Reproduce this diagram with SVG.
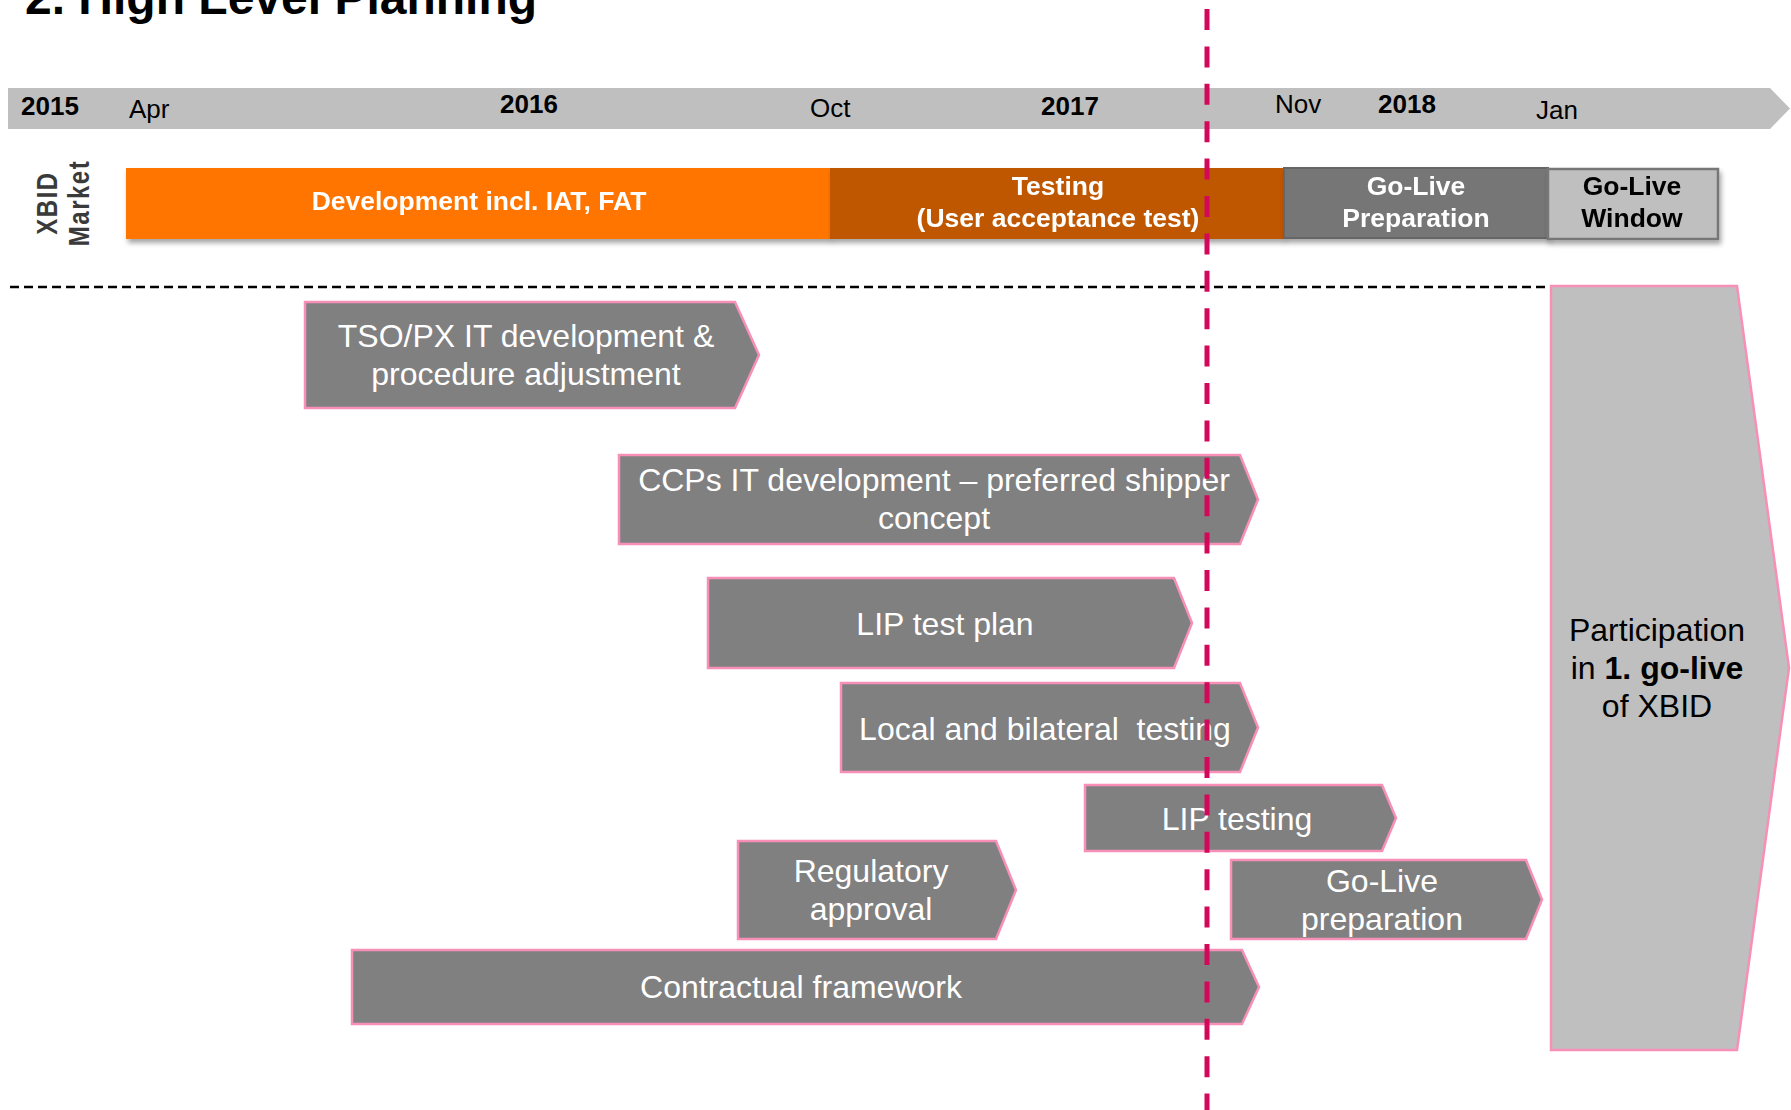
<svg xmlns="http://www.w3.org/2000/svg" width="1791" height="1110" viewBox="0 0 1791 1110">
  <defs>
    <filter id="shadow" x="-5%" y="-20%" width="110%" height="150%">
      <feDropShadow dx="2" dy="4" stdDeviation="2.5" flood-color="#000" flood-opacity="0.35"/>
    </filter>
    <style>
      .t { font-family: "Liberation Sans", Arial, sans-serif; }
      .title { font-size: 48px; font-weight: bold; fill: #000; }
      .yr { font-size: 26px; font-weight: bold; fill: #000; }
      .mo { font-size: 26px; fill: #000; }
      .bar { font-size: 26.5px; font-weight: bold; fill: #fff; text-anchor: middle; }
      .barb { font-size: 26.5px; font-weight: bold; fill: #000; text-anchor: middle; }
      .task { fill: #808080; stroke: #F78FB6; stroke-width: 2.5; }
      .tt { font-size: 32px; fill: #fff; text-anchor: middle; }
      .side { font-size: 24px; font-weight: bold; fill: #3a3a3a; letter-spacing: 1.5px; text-anchor: middle; }
    </style>
  </defs>
  <rect width="1791" height="1110" fill="#fff"/>

  <text class="t title" x="25" y="14">2. High Level Planning</text>

  <g id="timeline">
    <polygon points="8,88 1770,88 1790,108.5 1770,129 8,129" fill="#BFBFBF"/>
    <text class="t yr" x="21" y="115">2015</text>
    <text class="t mo" x="129" y="118">Apr</text>
    <text class="t yr" x="500" y="113">2016</text>
    <text class="t mo" x="810" y="117">Oct</text>
    <text class="t yr" x="1041" y="115">2017</text>
    <text class="t mo" x="1275" y="113">Nov</text>
    <text class="t yr" x="1378" y="113">2018</text>
    <text class="t mo" x="1536" y="119">Jan</text>
  </g>

  <g id="xbid-market-label">
    <text class="t side" transform="translate(57,203) rotate(-90) scale(1,1.25)" x="0" y="0">XBID</text>
    <text class="t side" transform="translate(89,203) rotate(-90) scale(1,1.25)" x="0" y="0">Market</text>
  </g>

  <g id="development" filter="url(#shadow)">
    <rect x="126" y="168" width="705" height="71" fill="#FF7400"/>
    <text class="t bar" x="479" y="210" font-size="27">Development incl. IAT, FAT</text>
  </g>
  <g id="testing" filter="url(#shadow)">
    <rect x="830" y="168" width="454" height="71" fill="#BF5700"/>
    <text class="t bar" x="1058" y="195">Testing</text>
    <text class="t bar" x="1058" y="227">(User acceptance test)</text>
  </g>
  <g id="golive-preparation-bar" filter="url(#shadow)">
    <rect x="1284" y="168" width="264" height="70" fill="#767676" stroke="#666" stroke-width="2"/>
    <text class="t bar" x="1416" y="195">Go-Live</text>
    <text class="t bar" x="1416" y="227">Preparation</text>
  </g>
  <g id="golive-window" filter="url(#shadow)">
    <rect x="1548" y="169" width="170" height="70" fill="#BFBFBF" stroke="#777" stroke-width="2.5"/>
    <text class="t barb" x="1632" y="195">Go-Live</text>
    <text class="t barb" x="1632" y="227">Window</text>
  </g>

  <g id="tso-px">
    <polygon class="task" points="305,302 735,302 759,355 735,408 305,408"/>
    <text class="t tt" x="526" y="347">TSO/PX IT development &amp;</text>
    <text class="t tt" x="526" y="385">procedure adjustment</text>
  </g>
  <g id="ccps">
    <polygon class="task" points="619,455 1240,455 1258,499.5 1240,544 619,544"/>
    <text class="t tt" x="934" y="491">CCPs IT development – preferred shipper</text>
    <text class="t tt" x="934" y="529">concept</text>
  </g>
  <g id="lip-test-plan">
    <polygon class="task" points="708,578 1174,578 1192,623 1174,668 708,668"/>
    <text class="t tt" x="945" y="635">LIP test plan</text>
  </g>
  <g id="local-bilateral">
    <polygon class="task" points="841,683 1240,683 1258,727.5 1240,772 841,772"/>
    <text class="t tt" x="1045" y="740" xml:space="preserve">Local and bilateral  testing</text>
  </g>
  <g id="lip-testing">
    <polygon class="task" points="1085,785 1382,785 1396,818 1382,851 1085,851"/>
    <text class="t tt" x="1237" y="830">LIP testing</text>
  </g>
  <g id="regulatory">
    <polygon class="task" points="738,841 996,841 1016,890 996,939 738,939"/>
    <text class="t tt" x="871" y="882">Regulatory</text>
    <text class="t tt" x="871" y="920">approval</text>
  </g>
  <g id="golive-preparation">
    <polygon class="task" points="1231,860 1526,860 1542,899.5 1526,939 1231,939"/>
    <text class="t tt" x="1382" y="892">Go-Live</text>
    <text class="t tt" x="1382" y="930">preparation</text>
  </g>
  <g id="contractual">
    <polygon class="task" points="352,950 1242,950 1259,987 1242,1024 352,1024"/>
    <text class="t tt" x="801" y="998">Contractual framework</text>
  </g>
  <g id="participation">
    <polygon points="1551,286 1737,286 1789,668 1737,1050 1551,1050" fill="#BFBFBF" stroke="#F78FB6" stroke-width="2.5"/>
    <text class="t" x="1657" y="641" font-size="32" fill="#000" text-anchor="middle">Participation</text>
    <text class="t" x="1657" y="679" font-size="32" fill="#000" text-anchor="middle">in <tspan font-weight="bold">1. go-live</tspan></text>
    <text class="t" x="1657" y="717" font-size="32" fill="#000" text-anchor="middle">of XBID</text>
  </g>

  <g id="connectors">
    <line x1="10" y1="287" x2="1546" y2="287" stroke="#000" stroke-width="2.5" stroke-dasharray="9 5"/>
    <line x1="1207" y1="9" x2="1207" y2="1110" stroke="#D4085A" stroke-width="5" stroke-dasharray="21 16.4"/>
  </g>
</svg>
